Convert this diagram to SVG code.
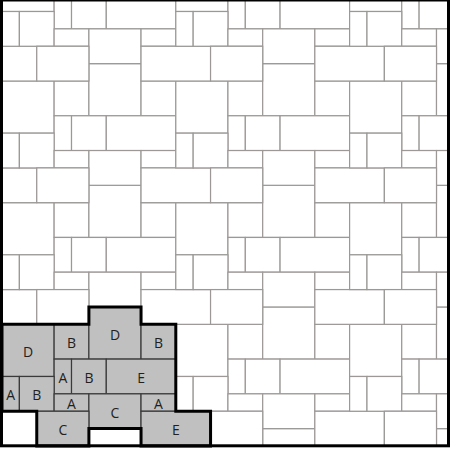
<svg xmlns="http://www.w3.org/2000/svg" width="451" height="450" viewBox="0 0 451 450">
<style>
.h rect{fill:#c0c0c0;stroke:#3a3a3a;stroke-width:1.2}
.h text{font-family:"Open Sans","Liberation Sans",sans-serif;font-size:14px;fill:#231f20;text-anchor:middle;dominant-baseline:central}
</style>
<defs>
<clipPath id="clip"><rect x="1.5" y="0" width="447" height="445.8"/></clipPath>
<g id="unit" fill="#ffffff" stroke="#9b9896" stroke-width="1.2">
<rect x="0" y="-121.66" width="52.14" height="52.14"/>
<rect x="52.14" y="-121.66" width="34.76" height="34.76"/>
<rect x="86.9" y="-139.04" width="52.14" height="52.14"/>
<rect x="139.04" y="-121.66" width="34.76" height="34.76"/>
<rect x="52.14" y="-86.9" width="17.38" height="34.76"/>
<rect x="69.52" y="-86.9" width="34.76" height="34.76"/>
<rect x="104.28" y="-86.9" width="69.52" height="34.76"/>
<rect x="0" y="-69.52" width="17.38" height="34.76"/>
<rect x="17.38" y="-69.52" width="34.76" height="34.76"/>
<rect x="52.14" y="-52.14" width="34.76" height="17.38"/>
<rect x="86.9" y="-52.14" width="52.14" height="34.76"/>
<rect x="139.04" y="-52.14" width="34.76" height="17.38"/>
<rect x="34.76" y="-34.76" width="52.14" height="34.76"/>
<rect x="139.04" y="-34.76" width="69.52" height="34.76"/>
</g>
</defs>
<rect x="0" y="0" width="451" height="450" fill="#ffffff"/>
<g id="pattern" clip-path="url(#clip)">
<use href="#unit" x="-171.8" y="567.66"/>
<use href="#unit" x="2" y="567.66"/>
<use href="#unit" x="175.8" y="567.66"/>
<use href="#unit" x="349.6" y="567.66"/>
<use href="#unit" x="-171.8" y="446"/>
<use href="#unit" x="175.8" y="446"/>
<use href="#unit" x="349.6" y="446"/>
<use href="#unit" x="-171.8" y="324.34"/>
<use href="#unit" x="2" y="324.34"/>
<use href="#unit" x="175.8" y="324.34"/>
<use href="#unit" x="349.6" y="324.34"/>
<use href="#unit" x="-171.8" y="202.68"/>
<use href="#unit" x="2" y="202.68"/>
<use href="#unit" x="175.8" y="202.68"/>
<use href="#unit" x="349.6" y="202.68"/>
<use href="#unit" x="-171.8" y="81.02"/>
<use href="#unit" x="2" y="81.02"/>
<use href="#unit" x="175.8" y="81.02"/>
<use href="#unit" x="349.6" y="81.02"/>
</g>
<g class="h" transform="translate(2,446)">
<g id="tile-D1"><rect x="0" y="-121.66" width="52.14" height="52.14"/><text x="26.07" y="-94.6">D</text></g>
<g id="tile-B1"><rect x="52.14" y="-121.66" width="34.76" height="34.76"/><text x="69.52" y="-103.3">B</text></g>
<g id="tile-D2"><rect x="86.9" y="-139.04" width="52.14" height="52.14"/><text x="112.97" y="-112">D</text></g>
<g id="tile-B2"><rect x="139.04" y="-121.66" width="34.76" height="34.76"/><text x="156.42" y="-103.3">B</text></g>
<g id="tile-A1"><rect x="52.14" y="-86.9" width="17.38" height="34.76"/><text x="60.83" y="-68.5">A</text></g>
<g id="tile-B3"><rect x="69.52" y="-86.9" width="34.76" height="34.76"/><text x="86.9" y="-68.5">B</text></g>
<g id="tile-E1"><rect x="104.28" y="-86.9" width="69.52" height="34.76"/><text x="139.04" y="-68.5">E</text></g>
<g id="tile-A2"><rect x="0" y="-69.52" width="17.38" height="34.76"/><text x="8.69" y="-51.1">A</text></g>
<g id="tile-B4"><rect x="17.38" y="-69.52" width="34.76" height="34.76"/><text x="34.76" y="-51.1">B</text></g>
<g id="tile-A3"><rect x="52.14" y="-52.14" width="34.76" height="17.38"/><text x="69.52" y="-42.5">A</text></g>
<g id="tile-C1"><rect x="86.9" y="-52.14" width="52.14" height="34.76"/><text x="112.97" y="-33.8">C</text></g>
<g id="tile-A4"><rect x="139.04" y="-52.14" width="34.76" height="17.38"/><text x="156.42" y="-42.5">A</text></g>
<g id="tile-C2"><rect x="34.76" y="-34.76" width="52.14" height="34.76"/><text x="60.83" y="-16.4">C</text></g>
<g id="tile-E2"><rect x="139.04" y="-34.76" width="69.52" height="34.76"/><text x="173.8" y="-16.4">E</text></g>
</g>
<g id="outline" fill="none" stroke="#000000" stroke-width="3" stroke-linejoin="miter">
<path d="M36.76,446 L88.9,446 L88.9,428.62 L141.04,428.62 L141.04,446 L210.56,446 L210.56,411.24 L175.8,411.24 L175.8,324.34 L141.04,324.34 L141.04,306.96 L88.9,306.96 L88.9,324.34 L2,324.34 L2,411.24 L36.76,411.24 Z"/>
<rect x="1.5" y="0" width="447" height="445.8"/>
</g>
</svg>
